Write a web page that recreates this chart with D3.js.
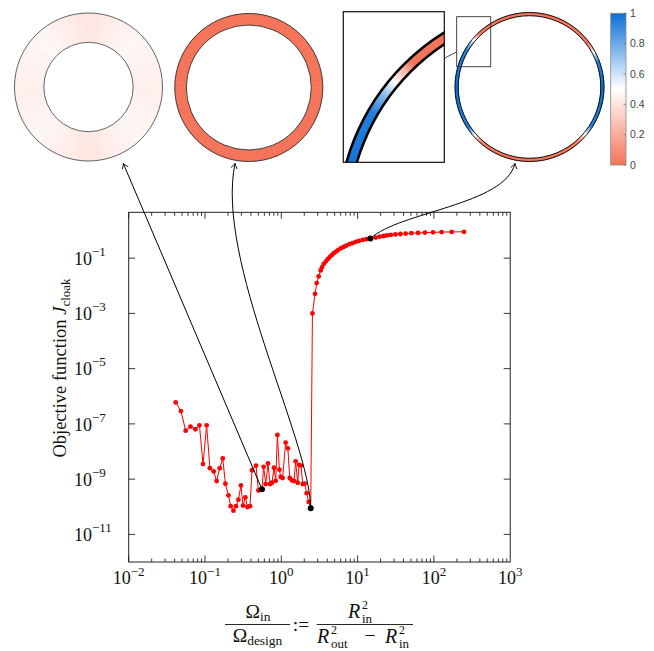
<!DOCTYPE html>
<html lang="en">
<head>
<meta charset="UTF-8">
<title>Cloak objective vs area ratio</title>
<script src="https://d3js.org/d3.v7.min.js"></script>
<style>
  body { margin: 0; background: #fff; }
  text { font-family: "Liberation Serif", "DejaVu Serif", serif; fill: #111; }
  .cb text { font-family: "Liberation Sans", Arial, sans-serif; fill: #444; }
</style>
</head>
<body>
<svg id="chart" width="654" height="651"></svg>
<script>
// noisy branch (small inner domain)
const lowX = [0.0413,0.0484,0.0558,0.0644,0.0748,0.0846,0.0942,0.105,0.116,0.130,0.142,0.156,0.171,0.185,0.203,0.217,0.236,0.255,0.274,0.296,0.315,0.338,0.360,0.389,0.413,0.466,0.501,0.558,0.587,0.625,0.670,0.711,0.755,0.802,0.845,0.889,0.944,0.982,1.04,1.14,1.22,1.29,1.38,1.47,1.54,1.64,1.71,1.81,1.91,2.03,2.15,2.29,2.43];
const lowY = [6.0e-7,2.9e-7,5.7e-8,8.0e-8,6.4e-8,8.9e-8,3.5e-9,8.9e-8,2.5e-9,1.9e-9,8.5e-10,2.5e-9,5.6e-9,6.8e-10,2.6e-10,1.05e-10,7.2e-11,1.05e-10,1.8e-10,5.9e-10,1.1e-10,2.2e-10,9.8e-11,1.05e-10,2.1e-9,3.1e-9,3.9e-10,4.3e-10,2.8e-9,6.6e-10,3.7e-9,6.6e-10,7.4e-10,2.6e-9,8.7e-10,4.0e-8,2.2e-9,1.2e-9,1.1e-9,2.1e-8,1.3e-8,1.1e-9,9.1e-10,8.5e-10,4.4e-9,7.4e-10,3.3e-9,3.1e-9,6.6e-10,6.9e-10,3.1e-10,1.5e-10,8.9e-11];
// saturating branch (large inner domain)
const highX = [2.56,2.77,2.91,3.09,3.28,3.41,3.59,3.82,4.06,4.31,4.58,4.86,5.21,5.60,6.06,6.57,7.13,7.81,8.55,9.44,10.4,11.7,13.0,14.7,17.3,19.5,22.0,24.3,27.2,31.3,36.4,42.7,50.7,61.9,76.4,97.3,126,171,248];
const highY = [1.0e-3,5.1e-3,1.25e-2,2.2e-2,3.6e-2,4.6e-2,6.1e-2,7.5e-2,9.2e-2,0.109,0.128,0.152,0.173,0.200,0.230,0.256,0.285,0.321,0.348,0.388,0.422,0.458,0.486,0.511,0.555,0.60,0.635,0.665,0.695,0.725,0.75,0.775,0.80,0.82,0.84,0.86,0.88,0.89,0.90];
// highlighted designs (shown in the insets)
const markX = [0.558, 2.43, 14.7];
const markY = [4.3e-10, 8.9e-11, 0.511];

const xTickExp = [-2, -1, 0, 1, 2, 3];
const yTickExp = [-11, -9, -7, -5, -3, -1];
const cbTicks = [0, 0.2, 0.4, 0.6, 0.8, 1];

// inset colour values around each ring: [angle in degrees ccw from +x, value]
const ring1Stops = [[0,0.44],[45,0.47],[90,0.41],[135,0.47],[180,0.44],[225,0.47],[270,0.41],[315,0.47],[360,0.44]];
const ring2Stops = [[0,0],[360,0]];
const ring3Stops = [[0,1],[20,0.95],[27,0.6],[33,0.2],[38,0],[133,0],[137,0.3],[140,0.5],[144,0.72],[150,0.95],[180,1],[214,0.95],[220,0.6],[226,0.2],[231,0],[310,0],[316,0.25],[322,0.6],[328,0.95],[360,1]];

const svg = d3.select("#chart");
const sup = "\u2212";

// scales
const x = d3.scaleLog().domain([1e-2, 1e3]).range([128.7, 510.2]);
const y = d3.scaleLog().domain([1e-12, Math.pow(10, 0.66)]).range([562, 212.3]);
const cmap = d3.scaleLinear().domain([0, 0.5, 1]).range(["#f4745a", "#ffffff", "#0b6fd6"]);

// ---------- main axes ----------
const x0 = x.range()[0], x1 = x.range()[1];
const yb = y.range()[0], yt = y.range()[1];

const ax = svg.append("g").attr("stroke", "#222").attr("stroke-width", 0.9);
// x ticks (major + minor) on bottom and top
for (let e = -2; e <= 2; e++) {
  for (let m = 1; m <= 9; m++) {
    const v = m * Math.pow(10, e);
    const len = m === 1 ? 6.5 : 3.5;
    const px = x(v);
    ax.append("line").attr("x1", px).attr("x2", px).attr("y1", yb).attr("y2", yb - len);
    ax.append("line").attr("x1", px).attr("x2", px).attr("y1", yt).attr("y2", yt + len);
  }
}
// y ticks on left and right
yTickExp.forEach(e => {
  const py = y(Math.pow(10, e));
  ax.append("line").attr("x1", x0).attr("x2", x0 + 6.5).attr("y1", py).attr("y2", py);
  ax.append("line").attr("x1", x1).attr("x2", x1 - 6.5).attr("y1", py).attr("y2", py);
});
svg.append("rect").attr("x", x0).attr("y", yt).attr("width", x1 - x0).attr("height", yb - yt)
  .attr("fill", "none").attr("stroke", "#222").attr("stroke-width", 1);

// tick labels
xTickExp.forEach(e => {
  const t = svg.append("text").attr("x", x(Math.pow(10, e))).attr("y", 584)
    .attr("text-anchor", "middle").attr("font-size", 18).text("10");
  t.append("tspan").attr("font-size", 13).attr("dy", -8.5).text(e < 0 ? sup + (-e) : String(e));
});
yTickExp.forEach(e => {
  const t = svg.append("text").attr("x", 74).attr("y", y(Math.pow(10, e)) + 6.7)
    .attr("font-size", 18).text("10");
  t.append("tspan").attr("font-size", 13).attr("dy", -9).text(sup + (-e));
});

// y label
const yl = svg.append("text").attr("transform", "translate(66,368) rotate(-90)")
  .attr("text-anchor", "middle").attr("font-size", 18.5).text("Objective function ");
yl.append("tspan").attr("font-style", "italic").text("J");
yl.append("tspan").attr("font-size", 13).attr("dy", 4).text("cloak");

// x label: Omega_in / Omega_design := R_in^2 / (R_out^2 - R_in^2)
const xl = svg.append("g");
const n1 = xl.append("text").attr("x", 258).attr("y", 618).attr("text-anchor", "middle").attr("font-size", 19.5).text("\u03A9");
n1.append("tspan").attr("font-size", 13.5).attr("dy", 3).text("in");
xl.append("line").attr("x1", 225).attr("x2", 290).attr("y1", 624.5).attr("y2", 624.5).attr("stroke", "#111").attr("stroke-width", 0.9);
const d1 = xl.append("text").attr("x", 257.5).attr("y", 642).attr("text-anchor", "middle").attr("font-size", 19.5).text("\u03A9");
d1.append("tspan").attr("font-size", 13.5).attr("dy", 3).text("design");
xl.append("text").attr("x", 301).attr("y", 631).attr("text-anchor", "middle").attr("font-size", 19.5).text(":=");
function rTerm(px, py, subTxt) {
  xl.append("text").attr("x", px).attr("y", py).attr("font-size", 20).attr("font-style", "italic").text("R");
  xl.append("text").attr("x", px + 14).attr("y", py - 9.5).attr("font-size", 12).text("2");
  xl.append("text").attr("x", px + 14).attr("y", py + 4.5).attr("font-size", 13).attr("textLength", null).text(subTxt);
}
rTerm(348, 618, "in");
xl.append("line").attr("x1", 316.7).attr("x2", 413).attr("y1", 624.5).attr("y2", 624.5).attr("stroke", "#111").attr("stroke-width", 0.9);
rTerm(317, 643, "out");
xl.append("text").attr("x", 370).attr("y", 642).attr("text-anchor", "middle").attr("font-size", 19.5).text("\u2212");
rTerm(385, 643, "in");

// ---------- data ----------
const pts = lowX.map((v, i) => [v, lowY[i]]).concat(highX.map((v, i) => [v, highY[i]]));
const line = d3.line().x(d => x(d[0])).y(d => y(d[1]));
svg.append("path").datum(pts).attr("d", line).attr("fill", "none").attr("stroke", "#ff0000").attr("stroke-width", 1);
svg.append("g").selectAll("circle").data(pts).join("circle")
  .attr("cx", d => x(d[0])).attr("cy", d => y(d[1])).attr("r", 2.4).attr("fill", "#ff0000");
const marks = markX.map((v, i) => [x(v), y(markY[i])]);
svg.append("g").selectAll("circle").data(marks).join("circle")
  .attr("cx", d => d[0]).attr("cy", d => d[1]).attr("r", 3).attr("fill", "#000");

// ---------- insets ----------
function drawRing(g, cx, cy, r0, r1, stops, step) {
  const val = d3.scaleLinear().domain(stops.map(s => s[0])).range(stops.map(s => s[1]));
  const arc = d3.arc().innerRadius(r0).outerRadius(r1);
  for (let t = 0; t < 360; t += step) {
    const c = cmap(val(t + step / 2));
    g.append("path").attr("transform", `translate(${cx},${cy})`)
      .attr("d", arc({ startAngle: (90 - t - step - 0.1) * Math.PI / 180, endAngle: (90 - t + 0.1) * Math.PI / 180 }))
      .attr("fill", c).attr("stroke", c).attr("stroke-width", 0.4);
  }
}
function outline(g, cx, cy, r, col, w) {
  g.append("circle").attr("cx", cx).attr("cy", cy).attr("r", r).attr("fill", "none").attr("stroke", col).attr("stroke-width", w);
}
const ins = svg.append("g");
drawRing(ins, 88.5, 87, 44.7, 74, ring1Stops, 2);
outline(ins, 88.5, 87, 74, "#555", 0.9);
outline(ins, 88.5, 87, 44.7, "#555", 0.9);

drawRing(ins, 248.8, 87.5, 62.5, 74, ring2Stops, 4);
outline(ins, 248.8, 87.5, 74, "#333", 0.9);
outline(ins, 248.8, 87.5, 62.5, "#333", 0.9);

drawRing(ins, 529.5, 87, 71.3, 74.5, ring3Stops, 0.5);
outline(ins, 529.5, 87, 74.5, "#111", 1);
outline(ins, 529.5, 87, 71.3, "#111", 1);

// magnified window
svg.append("clipPath").attr("id", "zclip").append("rect")
  .attr("x", 343.3).attr("y", 11.7).attr("width", 101).attr("height", 150.6);
const zg = svg.append("g").attr("clip-path", "url(#zclip)");
zg.append("rect").attr("x", 343.3).attr("y", 11.7).attr("width", 101).attr("height", 150.6).attr("fill", "#fff");
drawRing(zg, 561.7, 222.6, 213.5, 223.5, ring3Stops, 0.25);
outline(zg, 561.7, 222.6, 223.5, "#000", 2.6);
outline(zg, 561.7, 222.6, 213.5, "#000", 2.6);
svg.append("rect").attr("x", 343.3).attr("y", 11.7).attr("width", 101).attr("height", 150.6)
  .attr("fill", "none").attr("stroke", "#111").attr("stroke-width", 1.2);
svg.append("rect").attr("x", 456.7).attr("y", 16.7).attr("width", 34).attr("height", 50)
  .attr("fill", "none").attr("stroke", "#333").attr("stroke-width", 0.9);
svg.append("line").attr("x1", 444.3).attr("y1", 58.3).attr("x2", 457).attr("y2", 51.7)
  .attr("stroke", "#333").attr("stroke-width", 0.9);

// colour bar
const cb = svg.append("g").attr("class", "cb");
const cy = d3.scaleLinear().domain([0, 1]).range([165, 13.3]);
const grad = svg.append("defs").append("linearGradient").attr("id", "cbgrad")
  .attr("x1", 0).attr("y1", 1).attr("x2", 0).attr("y2", 0);
[0, 0.25, 0.5, 0.75, 1].forEach(v => grad.append("stop").attr("offset", v).attr("stop-color", cmap(v)));
cb.append("rect").attr("x", 610.7).attr("y", cy(1)).attr("width", 15.3).attr("height", cy(0) - cy(1))
  .attr("fill", "url(#cbgrad)").attr("stroke", "#888").attr("stroke-width", 0.8);
cbTicks.forEach(v => {
  cb.append("line").attr("x1", 623.5).attr("x2", 626).attr("y1", cy(v)).attr("y2", cy(v)).attr("stroke", "#666").attr("stroke-width", 0.7);
  cb.append("text").attr("x", 630).attr("y", cy(v) + 3.6).attr("font-size", 10.5).text(String(v));
});

// ---------- arrows from highlighted points to insets ----------
function arrowHead(g, tip, dir) {
  const l = Math.hypot(dir[0], dir[1]);
  const u = [dir[0] / l, dir[1] / l], n = [-u[1], u[0]];
  const p = (a, b) => [tip[0] - a * u[0] + b * n[0], tip[1] - a * u[1] + b * n[1]];
  const A = p(5, 3.2), B = p(1.6, 0.6), C = p(1.6, -0.6), D = p(5, -3.2);
  g.append("path").attr("d", `M${A}Q${B} ${tip}Q${C} ${D}`).attr("fill", "none")
    .attr("stroke", "#000").attr("stroke-width", 0.9);
}
const ar = svg.append("g");
const t1 = [123.3, 163.5];
ar.append("path").attr("d", `M${marks[0]}L${t1}`).attr("fill", "none").attr("stroke", "#000").attr("stroke-width", 1);
arrowHead(ar, t1, [t1[0] - marks[0][0], t1[1] - marks[0][1]]);

const t2 = [235, 163.5], c2a = [marks[1][0] - 1, marks[1][1] - 69], c2b = [215, 260];
ar.append("path").attr("d", `M${marks[1]}C${c2a} ${c2b} ${t2}`).attr("fill", "none").attr("stroke", "#000").attr("stroke-width", 1);
arrowHead(ar, t2, [t2[0] - c2b[0], t2[1] - c2b[1]]);

const t3 = [515, 163.5], c3a = [marks[2][0] + 29, marks[2][1] - 27], c3b = [505, 205];
ar.append("path").attr("d", `M${marks[2]}C${c3a} ${c3b} ${t3}`).attr("fill", "none").attr("stroke", "#000").attr("stroke-width", 1);
arrowHead(ar, t3, [t3[0] - c3b[0], t3[1] - c3b[1]]);
</script>
</body>
</html>
